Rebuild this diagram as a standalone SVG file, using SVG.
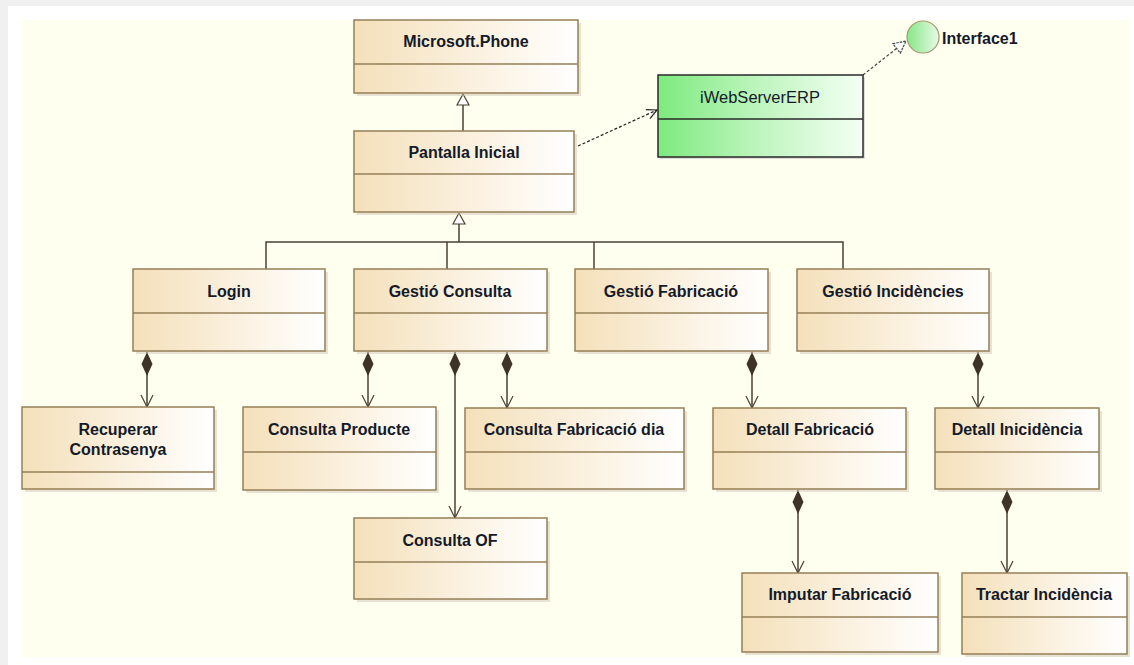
<svg xmlns="http://www.w3.org/2000/svg" width="1134" height="665" viewBox="0 0 1134 665">
<defs>
<linearGradient id="gBox" x1="0" y1="0" x2="1" y2="0">
<stop offset="0" stop-color="#f4e0ba"/>
<stop offset="0.55" stop-color="#fbf1e0"/>
<stop offset="1" stop-color="#ffffff"/>
</linearGradient>
<linearGradient id="gGreen" x1="0" y1="0" x2="1" y2="0">
<stop offset="0" stop-color="#7eea7e"/>
<stop offset="0.5" stop-color="#bff5bf"/>
<stop offset="1" stop-color="#f4fff4"/>
</linearGradient>
<linearGradient id="gCircle" x1="0" y1="0" x2="1" y2="0">
<stop offset="0" stop-color="#86e886"/>
<stop offset="1" stop-color="#e6fae6"/>
</linearGradient>
<marker id="diamond" markerUnits="userSpaceOnUse" viewBox="0 0 24 12" refX="0" refY="6" markerWidth="24" markerHeight="12" orient="auto">
<path d="M0,6 L12,0.5 L24,6 L12,11.5 Z" fill="#3d3326"/>
</marker>
<marker id="openArrow" markerUnits="userSpaceOnUse" viewBox="0 0 14 14" refX="13" refY="7" markerWidth="14" markerHeight="14" orient="auto">
<path d="M1,1 L13,7 L1,13" fill="none" stroke="#4a4034" stroke-width="1.2"/>
</marker>
<marker id="depArrow" markerUnits="userSpaceOnUse" viewBox="0 0 12 12" refX="11" refY="6" markerWidth="12" markerHeight="12" orient="auto">
<path d="M1,1 L11,6 L1,11" fill="none" stroke="#222" stroke-width="1.2"/>
</marker>
<marker id="hollowTri" markerUnits="userSpaceOnUse" viewBox="0 0 14 14" refX="12" refY="7" markerWidth="14" markerHeight="14" orient="auto">
<path d="M1,1 L12,7 L1,13 Z" fill="#ffffff" stroke="#4a4034" stroke-width="1.2"/>
</marker>
<marker id="realTri" markerUnits="userSpaceOnUse" viewBox="0 0 14 14" refX="13" refY="7" markerWidth="14" markerHeight="14" orient="auto">
<path d="M1,1 L13,7 L1,13 Z" fill="#ffffff" stroke="#444" stroke-width="1.2" stroke-dasharray="2.5,1"/>
</marker>
</defs>
<style>
.box{fill:url(#gBox);stroke:#957f57;stroke-width:1.5}
.shadow{fill:#cfc6b4;opacity:0.5}
.div{stroke:#957f57;stroke-width:1.5}
.t{font-family:"Liberation Sans",Arial,sans-serif;font-weight:bold;font-size:16px;fill:#141a28;text-anchor:middle}
.conn{fill:none;stroke:#4a4034;stroke-width:1.5}
.comp{fill:none;stroke:#4a4034;stroke-width:1.5;marker-start:url(#diamond);marker-end:url(#openArrow)}
</style>
<rect x="0" y="0" width="1134" height="665" fill="#f0f0f0"/>
<rect x="8" y="6" width="1126" height="659" fill="#ffffff"/>
<rect x="22" y="20" width="1107" height="637" fill="#fffff0"/>

<g id="connectors">
<path class="conn" d="M463,131 V94" marker-end="url(#hollowTri)"/>
<path class="conn" d="M266,269 V242 H843 V269"/>
<path class="conn" d="M447,269 V242"/>
<path class="conn" d="M594,269 V242"/>
<path class="conn" d="M459,242 V213" marker-end="url(#hollowTri)"/>
<path d="M578,146 L657,110" fill="none" stroke="#222" stroke-width="1.2" stroke-dasharray="3,2" marker-end="url(#depArrow)"/>
<path d="M863,75 L906,41" fill="none" stroke="#444" stroke-width="1.2" stroke-dasharray="3,2" marker-end="url(#realTri)"/>
<path class="comp" d="M147,352 V407"/>
<path class="comp" d="M368,352 V407"/>
<path class="comp" d="M455,352 V518"/>
<path class="comp" d="M507,352 V408"/>
<path class="comp" d="M752,352 V408"/>
<path class="comp" d="M978,352 V408"/>
<path class="comp" d="M798,490 V573"/>
<path class="comp" d="M1007,490 V573"/>
</g>

<g id="n-microsoft-phone">
<rect class="shadow" x="357" y="23" width="224" height="73"/>
<rect class="box" x="354" y="20" width="224" height="73"/>
<line class="div" x1="354" y1="64" x2="578" y2="64"/>
<text class="t" x="466" y="47">Microsoft.Phone</text>
</g>
<g id="n-pantalla-inicial">
<rect class="shadow" x="357" y="134" width="220" height="81"/>
<rect class="box" x="354" y="131" width="220" height="81"/>
<line class="div" x1="354" y1="174" x2="574" y2="174"/>
<text class="t" x="464" y="158">Pantalla Inicial</text>
</g>
<g id="n-iwebservererp">
<rect x="660" y="77" width="205" height="82" fill="#bbbbbb" opacity="0.5"/>
<rect x="658" y="75" width="205" height="82" fill="url(#gGreen)" stroke="#2a2a2a" stroke-width="1.5"/>
<line x1="658" y1="119" x2="863" y2="119" stroke="#2a2a2a" stroke-width="1.5"/>
<text x="760" y="103" font-family="Liberation Sans, Arial, sans-serif" font-size="16.5px" fill="#141a28" text-anchor="middle">iWebServerERP</text>
</g>
<g id="n-interface1">
<circle cx="923" cy="37" r="16" fill="url(#gCircle)" stroke="#a89870" stroke-width="1.2"/>
<text x="942" y="44" font-family="Liberation Sans, Arial, sans-serif" font-weight="bold" font-size="16px" fill="#141a28">Interface1</text>
</g>
<g id="n-login">
<rect class="shadow" x="136" y="272" width="192" height="82"/>
<rect class="box" x="133" y="269" width="192" height="82"/>
<line class="div" x1="133" y1="313" x2="325" y2="313"/>
<text class="t" x="229" y="297">Login</text>
</g>
<g id="n-gestio-consulta">
<rect class="shadow" x="357" y="272" width="193" height="82"/>
<rect class="box" x="354" y="269" width="193" height="82"/>
<line class="div" x1="354" y1="313" x2="547" y2="313"/>
<text class="t" x="450" y="297">Gestió Consulta</text>
</g>
<g id="n-gestio-fabricacio">
<rect class="shadow" x="578" y="272" width="193" height="82"/>
<rect class="box" x="575" y="269" width="193" height="82"/>
<line class="div" x1="575" y1="313" x2="768" y2="313"/>
<text class="t" x="671" y="297">Gestió Fabricació</text>
</g>
<g id="n-gestio-incidencies">
<rect class="shadow" x="800" y="272" width="192" height="82"/>
<rect class="box" x="797" y="269" width="192" height="82"/>
<line class="div" x1="797" y1="313" x2="989" y2="313"/>
<text class="t" x="893" y="297">Gestió Incidències</text>
</g>
<g id="n-recuperar-contrasenya">
<rect class="shadow" x="25" y="410" width="192" height="82"/>
<rect class="box" x="22" y="407" width="192" height="82"/>
<line class="div" x1="22" y1="472" x2="214" y2="472"/>
<text class="t" x="118" y="435">Recuperar</text>
<text class="t" x="118" y="455">Contrasenya</text>
</g>
<g id="n-consulta-producte">
<rect class="shadow" x="246" y="410" width="193" height="83"/>
<rect class="box" x="243" y="407" width="193" height="83"/>
<line class="div" x1="243" y1="452" x2="436" y2="452"/>
<text class="t" x="339" y="435">Consulta Producte</text>
</g>
<g id="n-consulta-fabricacio-dia">
<rect class="shadow" x="468" y="411" width="219" height="81"/>
<rect class="box" x="465" y="408" width="219" height="81"/>
<line class="div" x1="465" y1="452" x2="684" y2="452"/>
<text class="t" x="574" y="435">Consulta Fabricació dia</text>
</g>
<g id="n-detall-fabricacio">
<rect class="shadow" x="716" y="411" width="193" height="81"/>
<rect class="box" x="713" y="408" width="193" height="81"/>
<line class="div" x1="713" y1="452" x2="906" y2="452"/>
<text class="t" x="810" y="435">Detall Fabricació</text>
</g>
<g id="n-detall-incidencia">
<rect class="shadow" x="938" y="411" width="164" height="81"/>
<rect class="box" x="935" y="408" width="164" height="81"/>
<line class="div" x1="935" y1="452" x2="1099" y2="452"/>
<text class="t" x="1017" y="435">Detall Inicidència</text>
</g>
<g id="n-consulta-of">
<rect class="shadow" x="357" y="521" width="193" height="81"/>
<rect class="box" x="354" y="518" width="193" height="81"/>
<line class="div" x1="354" y1="562" x2="547" y2="562"/>
<text class="t" x="450" y="546">Consulta OF</text>
</g>
<g id="n-imputar-fabricacio">
<rect class="shadow" x="745" y="576" width="196" height="79"/>
<rect class="box" x="742" y="573" width="196" height="79"/>
<line class="div" x1="742" y1="617" x2="938" y2="617"/>
<text class="t" x="840" y="600">Imputar Fabricació</text>
</g>
<g id="n-tractar-incidencia">
<rect class="shadow" x="965" y="576" width="165" height="81"/>
<rect class="box" x="962" y="573" width="165" height="81"/>
<line class="div" x1="962" y1="617" x2="1127" y2="617"/>
<text class="t" x="1044" y="600">Tractar Incidència</text>
</g>
</svg>
